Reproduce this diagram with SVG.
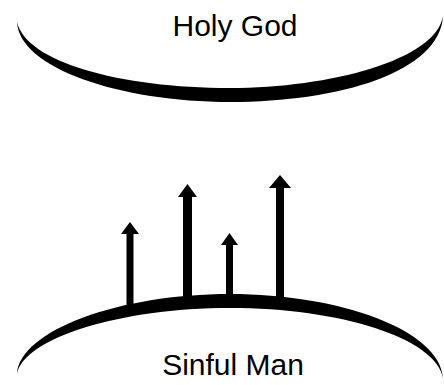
<svg xmlns="http://www.w3.org/2000/svg" width="444" height="385" viewBox="0 0 444 385">
<style>
.band{fill:#000}
.lbl{font-family:"Liberation Sans",Arial,sans-serif;font-size:30px;fill:#000;text-anchor:middle}
.shaft{fill:#000}
.head{fill:#000}
</style>
<rect width="444" height="385" fill="#fff"/>
<g id="holy-god">
<path class="band" d="M17,22 C19,68 120,102 230,102 C340,102 440,72 443,16 C436,60 330,88 230,88 C120,88 26,62 17,22 Z"/>
<text class="lbl" x="235" y="36">Holy God</text>
</g>
<g id="sinful-man">
<path class="band" d="M17,374 C20,330 120,294 230,294 C340,294 440,330 443,378 C436,338 340,308 230,308 C120,308 24,338 17,374 Z"/>
<text class="lbl" x="233" y="375">Sinful Man</text>
</g>
<g id="connectors">
<g id="arrow1"><rect class="shaft" x="126.5" y="231" width="7" height="74"/><polygon class="head" points="130,222 139,234 121,234"/></g>
<g id="arrow2"><rect class="shaft" x="183" y="194" width="9" height="104"/><polygon class="head" points="187.5,184 197,197 178,197"/></g>
<g id="arrow3"><rect class="shaft" x="226" y="243" width="7" height="54"/><polygon class="head" points="229.5,233 238,245 221,245"/></g>
<g id="arrow4"><rect class="shaft" x="276" y="185" width="8" height="112"/><polygon class="head" points="280,175 291,188 269,188"/></g>
</g>
</svg>
